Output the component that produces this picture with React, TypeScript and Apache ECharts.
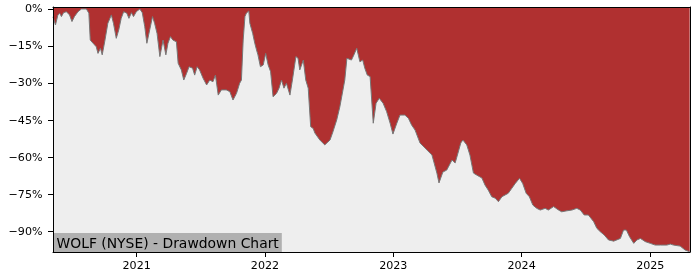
import React, { useEffect, useRef } from "react";
import * as echarts from "echarts";

const dates: string[] = [
  "2020-05-08","2020-05-15","2020-05-22","2020-05-27","2020-06-01","2020-06-07","2020-06-15","2020-06-24","2020-07-01","2020-07-08",
  "2020-07-18","2020-07-28","2020-08-11","2020-08-18","2020-08-22","2020-08-30","2020-09-08","2020-09-13","2020-09-20","2020-09-25",
  "2020-10-02","2020-10-11","2020-10-21","2020-10-27","2020-11-04","2020-11-11","2020-11-18","2020-11-25","2020-12-04","2020-12-10",
  "2020-12-17","2020-12-23","2020-12-31","2021-01-10","2021-01-17","2021-01-24","2021-01-30","2021-02-07","2021-02-15","2021-02-21",
  "2021-02-28","2021-03-08","2021-03-17","2021-03-25","2021-03-31","2021-04-07","2021-04-14","2021-04-24","2021-04-29","2021-05-08",
  "2021-05-15","2021-05-23","2021-05-30","2021-06-09","2021-06-15","2021-06-22","2021-06-29","2021-07-09","2021-07-19","2021-07-28",
  "2021-08-06","2021-08-13","2021-08-21","2021-08-30","2021-09-13","2021-09-23","2021-10-02","2021-10-12","2021-10-21","2021-10-26",
  "2021-10-31","2021-11-05","2021-11-09","2021-11-16","2021-11-19","2021-11-27","2021-12-03","2021-12-08","2021-12-12","2021-12-19",
  "2021-12-27","2022-01-03","2022-01-10","2022-01-17","2022-01-24","2022-02-03","2022-02-10","2022-02-17","2022-02-24","2022-03-03",
  "2022-03-13","2022-03-20","2022-03-30","2022-04-05","2022-04-10","2022-04-20","2022-04-27","2022-05-04","2022-05-11","2022-05-18",
  "2022-05-23","2022-06-06","2022-06-20","2022-07-05","2022-07-13","2022-07-24","2022-08-02","2022-08-16","2022-08-22","2022-09-04",
  "2022-09-11","2022-09-19","2022-09-28","2022-10-06","2022-10-12","2022-10-19","2022-10-27","2022-11-05","2022-11-13","2022-11-22",
  "2022-12-03","2022-12-13","2022-12-23","2022-12-31","2023-01-11","2023-01-20","2023-02-03","2023-02-13","2023-02-22","2023-03-04",
  "2023-03-18","2023-04-07","2023-04-21","2023-05-05","2023-05-11","2023-05-22","2023-06-02","2023-06-17","2023-06-26","2023-07-04",
  "2023-07-12","2023-07-18","2023-07-29","2023-08-07","2023-08-17","2023-08-26","2023-09-10","2023-09-19","2023-09-28","2023-10-08",
  "2023-10-18","2023-10-27","2023-11-06","2023-11-15","2023-11-24","2023-12-04","2023-12-14","2023-12-26","2024-01-04","2024-01-14",
  "2024-01-23","2024-02-02","2024-02-13","2024-02-23","2024-03-08","2024-03-17","2024-04-01","2024-04-15","2024-04-24","2024-05-09",
  "2024-05-23","2024-06-06","2024-06-16","2024-06-27","2024-07-09","2024-07-24","2024-08-02","2024-08-12","2024-08-23","2024-09-04",
  "2024-09-19","2024-10-08","2024-10-17","2024-10-25","2024-11-03","2024-11-15","2024-11-24","2024-12-04","2024-12-18","2025-01-01",
  "2025-01-15","2025-01-30","2025-02-17","2025-02-27","2025-03-08","2025-03-27","2025-04-10","2025-04-23"
];

const drawdown: number[] = [
  -3.2,-6.5,-2.4,-1.7,-3.1,-1.5,-1.1,-2.4,-5.1,-3.1,
  -1.1,0,0,-1.7,-12.6,-13.9,-15.3,-18.0,-15.9,-18.6,
  -13.3,-5.8,-2.4,-5.8,-11.9,-8.5,-3.8,-1.1,-1.7,-3.8,
  -1.5,-3.1,-1.1,0,-1.5,-7.2,-13.9,-8.5,-3.1,-5.8,
  -9.9,-19.3,-12.6,-18.6,-13.9,-11.2,-12.6,-13.3,-22.0,-24.7,
  -28.8,-26.1,-23.4,-24.0,-26.8,-23.4,-24.7,-28.1,-30.8,-28.8,
  -29.5,-26.8,-34.9,-32.8,-32.8,-33.5,-36.9,-34.2,-30.1,-28.8,
  -12.6,-3.1,-1.7,-0.8,-5.8,-9.9,-13.9,-16.6,-18.6,-23.4,
  -22.7,-18.0,-22.7,-25.4,-35.6,-34.2,-32.1,-28.8,-32.1,-30.1,
  -34.9,-28.8,-19.3,-20.0,-24.7,-20.7,-28.8,-32.1,-47.7,-48.4,
  -50.3,-53.1,-55.1,-53.1,-49.9,-45.0,-39.6,-28.8,-20.0,-20.7,
  -18.6,-15.9,-21.4,-20.7,-24.0,-26.8,-27.4,-46.3,-38.2,-36.2,
  -38.2,-41.6,-46.3,-50.7,-46.3,-43.0,-43.0,-44.3,-47.0,-49.1,
  -54.3,-57.2,-59.2,-66.5,-70.5,-66.1,-65.3,-61.2,-62.4,-58.4,
  -54.3,-53.1,-55.1,-59.2,-66.5,-67.3,-68.5,-71.4,-73.4,-76.1,
  -76.7,-78.1,-76.1,-75.4,-74.7,-72.7,-70.7,-68.6,-70.7,-74.7,
  -76.1,-79.5,-80.8,-81.5,-80.8,-81.5,-80.1,-81.5,-82.2,-81.8,
  -81.5,-80.8,-81.5,-83.5,-83.5,-86.2,-88.9,-90.3,-91.6,-93.6,
  -94.1,-93.0,-89.6,-89.6,-92.3,-95.0,-93.6,-93.0,-94.3,-95.0,
  -95.7,-95.7,-95.7,-95.3,-95.7,-96.1,-97.7,-98.4
];

const yTicks: number[] = [0, -15, -30, -45, -60, -75, -90];
const yearTicks: string[] = ["2021", "2022", "2023", "2024", "2025"];
const xStart = "2020-05-08";
const xEnd = "2025-04-24";
const titleText = "WOLF (NYSE) - Drawdown Chart";

function ts(s: string): number {
  const [y, m, d] = s.split("-").map(Number);
  return Date.UTC(y, m - 1, d);
}

export default function App() {
  const ref = useRef<HTMLDivElement>(null);
  useEffect(() => {
    if (!ref.current) return;
    const chart = echarts.init(ref.current, null, { renderer: "svg" });
    const font = "DejaVu Sans";
    const data = dates.map((d, i) => [ts(d), drawdown[i]]);
    const yearVals = yearTicks.map((y) => ts(y + "-01-01"));
    chart.setOption({
      animation: false,
      title: {
        text: titleText,
        left: 53.5,
        top: 233,
        backgroundColor: "#b0b0b0",
        padding: [3, 3, 2, 3],
        textStyle: {
          fontFamily: font,
          fontSize: 13.9,
          fontWeight: "normal",
          color: "#000",
          lineHeight: 14,
        },
      },
      grid: {
        left: 53,
        right: 10,
        top: 7,
        bottom: 28,
        show: true,
        backgroundColor: "#eeeeee",
        borderWidth: 0,
      },
      xAxis: [
        {
          type: "value",
          min: ts(xStart),
          max: ts(xEnd),
          z: 10,
          axisLine: { show: true, onZero: false, lineStyle: { color: "#000", width: 1 } },
          axisTick: {
            show: true,
            length: 5,
            lineStyle: { color: "#000", width: 1 },
            customValues: yearVals,
          },
          axisLabel: {
            show: true,
            fontFamily: font,
            fontSize: 11.1,
            color: "#000",
            margin: 8,
            customValues: yearVals,
            formatter: (v: number) => String(new Date(v).getUTCFullYear()),
          },
          splitLine: { show: false },
        },
        {
          type: "value",
          position: "top",
          min: 0,
          max: 1,
          z: 10,
          axisLine: { show: true, onZero: false, lineStyle: { color: "#000", width: 1 } },
          axisTick: { show: false },
          axisLabel: { show: false },
          splitLine: { show: false },
        },
      ],
      yAxis: [
        {
          type: "value",
          min: -98.5,
          max: 0.8,
          z: 10,
          axisLine: { show: true, onZero: false, lineStyle: { color: "#000", width: 1 } },
          axisTick: {
            show: true,
            length: 5,
            lineStyle: { color: "#000", width: 1 },
            customValues: yTicks,
          },
          axisLabel: {
            show: true,
            fontFamily: font,
            fontSize: 11.1,
            color: "#000",
            margin: 10.5,
            customValues: yTicks,
            formatter: (v: number) => (v < 0 ? "\u2212" : "") + Math.abs(v) + "%",
          },
          splitLine: { show: false },
        },
        {
          type: "value",
          position: "right",
          min: 0,
          max: 1,
          z: 10,
          axisLine: { show: true, onZero: false, lineStyle: { color: "#000", width: 1 } },
          axisTick: { show: false },
          axisLabel: { show: false },
          splitLine: { show: false },
        },
      ],
      series: [
        {
          type: "line",
          xAxisIndex: 0,
          yAxisIndex: 0,
          data,
          showSymbol: false,
          symbol: "none",
          lineStyle: { color: "#777777", width: 1 },
          areaStyle: { color: "#b03030", opacity: 1, origin: "end" },
        },
      ],
    });
    return () => chart.dispose();
  }, []);
  return (
    <div
      ref={ref}
      style={{ position: "fixed", left: 0, top: 0, width: 700, height: 280 }}
    />
  );
}
